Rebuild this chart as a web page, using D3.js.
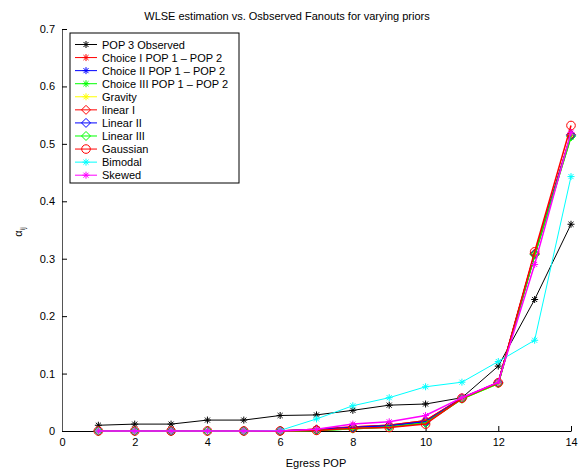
<!doctype html>
<html>
<head>
<meta charset="UTF-8">
<title>WLSE estimation vs. Osbserved Fanouts</title>
<script type="text/javascript" src="https://cdnjs.cloudflare.com/ajax/libs/d3/7.8.5/d3.min.js"></script>
<style>
	body { margin: 0; background: #fff; }
	text { font-family: "Liberation Sans", Arial, sans-serif; }
</style>
</head>
<body>
<svg id="chart"></svg>
<script type="text/javascript">
(function(){
	'use strict'

	// egress POP index on the x axis
	const pops = [1,2,3,4,5,6,7,8,9,10,11,12,13,14];

	// one array per legend entry
	const observed  = [0.010,0.012,0.012,0.019,0.019,0.027,0.028,0.036,0.045,0.047,0.058,0.113,0.229,0.360];
	const choice1   = [0,0,0,0,0,0,0.003,0.007,0.010,0.018,0.057,0.084,0.308,0.515];
	const choice2   = [0,0,0,0,0,0,0.002,0.006,0.009,0.016,0.057,0.084,0.307,0.514];
	const choice3   = [0,0,0,0,0,0,0.001,0.004,0.007,0.014,0.056,0.083,0.306,0.512];
	const gravity   = [0,0,0,0,0,0,0.002,0.005,0.008,0.015,0.056,0.083,0.306,0.513];
	const linear1   = [0,0,0,0,0,0,0.003,0.007,0.010,0.018,0.057,0.084,0.309,0.516];
	const linear2   = [0,0,0,0,0,0,0.002,0.006,0.009,0.016,0.057,0.084,0.308,0.515];
	const linear3   = [0,0,0,0,0,0,0.001,0.004,0.007,0.014,0.056,0.083,0.307,0.513];
	const gaussian  = [0,0,0,0,0,0,0.001,0.005,0.006,0.012,0.057,0.084,0.312,0.532];
	const bimodal   = [0,0,0,0,0,0.001,0.021,0.044,0.058,0.077,0.085,0.121,0.158,0.443];
	const skewed    = [0,0,0,0,0,0,0.003,0.012,0.016,0.027,0.058,0.085,0.290,0.520];

	const xTicks = [0,2,4,6,8,10,12,14];
	const yTicks = [0,0.1,0.2,0.3,0.4,0.5,0.6,0.7];

	const series = [
		{name: 'POP 3 Observed',           values: observed, color: '#000000', marker: 'star'},
		{name: 'Choice I POP 1 \u2013 POP 2',   values: choice1,  color: '#ff0000', marker: 'star'},
		{name: 'Choice II POP 1 \u2013 POP 2',  values: choice2,  color: '#0000ff', marker: 'star'},
		{name: 'Choice III POP 1 \u2013 POP 2', values: choice3,  color: '#00ff00', marker: 'star'},
		{name: 'Gravity',                  values: gravity,  color: '#ffff00', marker: 'star'},
		{name: 'linear I',                 values: linear1,  color: '#ff0000', marker: 'diamond'},
		{name: 'Linear II',                values: linear2,  color: '#0000ff', marker: 'diamond'},
		{name: 'Linear III',               values: linear3,  color: '#00ff00', marker: 'diamond'},
		{name: 'Gaussian',                 values: gaussian, color: '#ff0000', marker: 'circle'},
		{name: 'Bimodal',                  values: bimodal,  color: '#00ffff', marker: 'star'},
		{name: 'Skewed',                   values: skewed,   color: '#ff00ff', marker: 'star'}
	];

	const width = 578, height = 470;
	const margin = {top: 29, right: 7, bottom: 39, left: 62};
	const w = width - margin.left - margin.right;
	const h = height - margin.top - margin.bottom;

	const svg = d3.select('#chart').attr('width', width).attr('height', height);
	const g = svg.append('g').attr('transform', 'translate(' + margin.left + ',' + margin.top + ')');

	const x = d3.scaleLinear().domain([0, 14]).range([0, w]);
	const y = d3.scaleLinear().domain([0, 0.7]).range([h, 0]);

	/* marker shapes drawn around (0,0) */
	function markerPath(type, r){
		if(type === 'star'){
			const d = r * 0.72;
			return 'M' + (-r) + ',0L' + r + ',0M0,' + (-r) + 'L0,' + r +
				'M' + (-d) + ',' + (-d) + 'L' + d + ',' + d +
				'M' + (-d) + ',' + d + 'L' + d + ',' + (-d);
		}
		if(type === 'diamond'){
			return 'M0,' + (-r) + 'L' + r + ',0L0,' + r + 'L' + (-r) + ',0Z';
		}
		return 'M' + r + ',0A' + r + ',' + r + ' 0 1,1 ' + (-r) + ',0A' + r + ',' + r + ' 0 1,1 ' + r + ',0Z';
	}
	const markerSize = {star: 3.5, diamond: 4.5, circle: 4.3};

	// axes (MATLAB style, inward ticks, no box)
	const xAxis = g.append('g')
		.attr('transform', 'translate(0,' + h + ')')
		.call(d3.axisBottom(x).tickValues(xTicks).tickSizeInner(-5).tickSizeOuter(0).tickPadding(7));
	const yAxis = g.append('g')
		.call(d3.axisLeft(y).tickValues(yTicks).tickFormat(d3.format('')).tickSizeInner(-5).tickSizeOuter(0).tickPadding(7));

	[xAxis, yAxis].forEach(function(a){
		a.selectAll('text').attr('font-size', 11).attr('fill', '#000')
			.style('font-family', '"Liberation Sans", Arial, sans-serif');
		a.selectAll('line').attr('stroke', '#000');
	});
	xAxis.select('.domain').attr('stroke', '#000');
	yAxis.select('.domain').attr('stroke', '#555');

	const line = d3.line()
		.x(function(d, i){ return x(pops[i]); })
		.y(function(d){ return y(d); });

	series.forEach(function(s){
		const sg = g.append('g');
		sg.append('path')
			.datum(s.values)
			.attr('fill', 'none')
			.attr('stroke', s.color)
			.attr('stroke-width', s.name === 'POP 3 Observed' || s.name === 'Bimodal' ? 1 : 1.5)
			.attr('d', line);
		sg.selectAll('path.mk')
			.data(s.values)
			.enter().append('path')
			.attr('class', 'mk')
			.attr('transform', function(d, i){ return 'translate(' + x(pops[i]) + ',' + y(d) + ')'; })
			.attr('d', markerPath(s.marker, markerSize[s.marker]))
			.attr('fill', 'none')
			.attr('stroke', s.color)
			.attr('stroke-width', 1);
	});

	// legend
	const lg = svg.append('g').attr('transform', 'translate(70,33)');
	lg.append('rect')
		.attr('x', 0).attr('y', 0).attr('width', 169).attr('height', 150)
		.attr('fill', '#fff').attr('stroke', '#000').attr('stroke-width', 1);
	series.forEach(function(s, i){
		const ry = 11.5 + i * 13.07;
		lg.append('line').attr('x1', 5).attr('x2', 27).attr('y1', ry).attr('y2', ry)
			.attr('stroke', s.color).attr('stroke-width', 1);
		lg.append('path').attr('transform', 'translate(16,' + ry + ')')
			.attr('d', markerPath(s.marker, markerSize[s.marker]))
			.attr('fill', 'none').attr('stroke', s.color);
		lg.append('text').attr('x', 32).attr('y', ry + 4)
			.attr('font-size', 11).text(s.name);
	});

	// titles
	svg.append('text').attr('x', 287).attr('y', 20).attr('text-anchor', 'middle')
		.attr('font-size', 11).text('WLSE estimation vs. Osbserved Fanouts for varying priors');
	svg.append('text').attr('x', 316).attr('y', 467).attr('text-anchor', 'middle')
		.attr('font-size', 11).text('Egress POP');
	const yl = svg.append('text').attr('transform', 'translate(22,232) rotate(-90)')
		.attr('text-anchor', 'middle').attr('font-size', 11);
	yl.append('tspan').text('\u03b1');
	yl.append('tspan').attr('font-size', 7).attr('dy', 3).text('ij');
})();
</script>
</body>
</html>
